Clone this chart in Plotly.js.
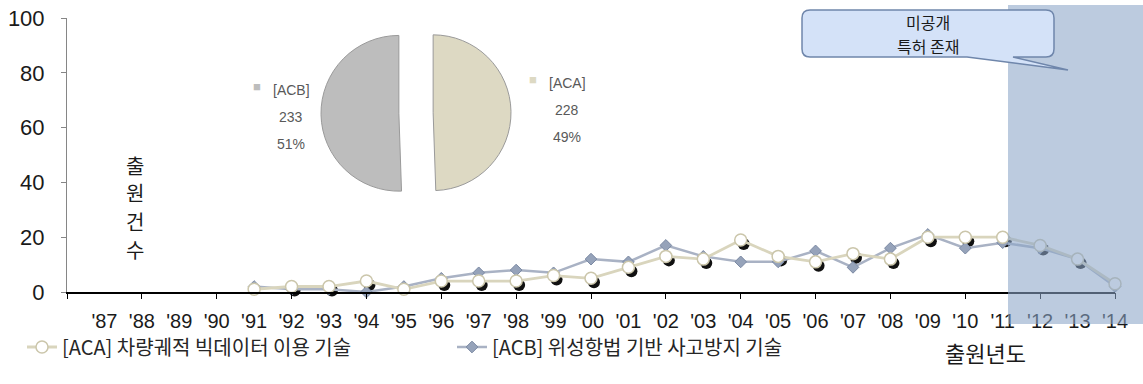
<!DOCTYPE html>
<html><head><meta charset="utf-8">
<script src="https://cdn.plot.ly/plotly-3.0.1.min.js"></script>
<style>html,body{margin:0;padding:0;background:#fff}</style>
</head><body><div id="chart" style="width:1143px;height:384px"></div>
<script>
// ---- data ----
const years = [1991,1992,1993,1994,1995,1996,1997,1998,1999,2000,2001,2002,2003,2004,2005,2006,2007,2008,2009,2010,2011,2012,2013,2014];
const acaValues = [1,2,2,4,1,4,4,4,6,5,9,13,12,19,13,11,14,12,20,20,20,17,12,3];
const acbValues = [2,1,1,0,2,5,7,8,7,12,11,17,13,11,11,15,9,16,21,16,18,16,12,2];
const seriesNames = ['[ACA] 차량궤적 빅데이터 이용 기술', '[ACB] 위성항법 기반 사고방지 기술'];
const tickYears = [1987,1988,1989,1990,1991,1992,1993,1994,1995,1996,1997,1998,1999,2000,2001,2002,2003,2004,2005,2006,2007,2008,2009,2010,2011,2012,2013,2014];
const tickText = ["'87","'88","'89","'90","'91","'92","'93","'94","'95","'96","'97","'98","'99","'00","'01","'02","'03","'04","'05","'06","'07","'08","'09","'10","'11","'12","'13","'14"];
const tickMarkYears = [1986,1988,1990,1992,1994,1996,1998,2000,2002,2004,2006,2008,2010,2012,2014];
const yTicks = [0,20,40,60,80,100];
const pieLabels = ['[ACA]', '[ACB]'];
const pieValues = [228, 233];
const pieColors = ['#ddd9c3', '#bdbdbd'];
const yTitle = '출원건수';
const xTitle = '출원년도';
const calloutLines = ['미공개', '특허 존재'];

// ---- geometry helpers (plot area in px) ----
const L = 67, R = 1115, T = 18, B = 292;
const W = R - L, H = B - T;
const px2x = p => (p - L) / W;
const py2y = p => (B - p) / H;
const xRange = [1986, 2014];
const yRange = [0, 100];
const pxPerX = W / (xRange[1] - xRange[0]);
const pxPerY = H / (yRange[1] - yRange[0]);
const shX = 3 / pxPerX, shY = 4 / pxPerY;

const cjk = '"Noto Sans CJK KR", "Noto Sans", sans-serif';
const latin = '"Liberation Sans", Arial, sans-serif';

const traces = [
  { // shadow of ACA markers (main, shifted hidden axes)
    x: years, y: acaValues, xaxis: 'x', yaxis: 'y', type: 'scatter', mode: 'markers',
    marker: {size: 12, color: '#111'}, showlegend: false, hoverinfo: 'skip', cliponaxis: false
  },
  {
    x: years, y: acbValues, xaxis: 'x2', yaxis: 'y2', type: 'scatter', mode: 'lines+markers',
    name: seriesNames[1], legendrank: 2,
    line: {color: '#a9b2c4', width: 2.5},
    marker: {symbol: 'diamond', size: 9, color: '#96a3ba', line: {color: '#7b89a3', width: 1}},
    cliponaxis: false
  },
  {
    x: years, y: acaValues, xaxis: 'x3', yaxis: 'y2', type: 'scatter', mode: 'lines+markers',
    name: seriesNames[0], legendrank: 1,
    line: {color: '#d9d5bd', width: 2.8},
    marker: {symbol: 'circle', size: 12, color: '#ffffff', line: {color: '#cbc6ab', width: 1.5}},
    cliponaxis: false
  },
  {
    type: 'pie', labels: pieLabels, values: pieValues, sort: false, direction: 'clockwise', rotation: 0,
    pull: [0.22, 0.22], textinfo: 'none', hoverinfo: 'skip', showlegend: false,
    marker: {colors: pieColors, line: {color: '#9a9a9a', width: 1}},
    domain: {x: [px2x(321), px2x(511)], y: [py2y(208), py2y(18)]}
  }
];

// callout path (rounded rect with tail), in paper coords
function P(x, y) { return px2x(x).toFixed(5) + ',' + py2y(y).toFixed(5); }
const cl = 802, cr = 1054, ct = 10, cb = 57, rr = 8;
const calloutPath = 'M' + P(cl + rr, ct) + ' L' + P(cr - rr, ct) + ' Q' + P(cr, ct) + ' ' + P(cr, ct + rr) +
  ' L' + P(cr, cb - rr) + ' Q' + P(cr, cb) + ' ' + P(cr - rr, cb) +
  ' L' + P(1013, cb) + ' L' + P(1068, 70) + ' L' + P(967, cb) +
  ' L' + P(cl + rr, cb) + ' Q' + P(cl, cb) + ' ' + P(cl, cb - rr) +
  ' L' + P(cl, ct + rr) + ' Q' + P(cl, ct) + ' ' + P(cl + rr, ct) + ' Z';

const annotations = [];
calloutLines.forEach((t, i) => {
  annotations.push({xref: 'paper', yref: 'paper', x: px2x(928), y: py2y(22 + i * 24), text: t, showarrow: false,
    font: {family: cjk, size: 16, color: '#1a1a1a'}, xanchor: 'center', yanchor: 'middle'});
});
// pie labels
const pieTotal = pieValues.reduce((a, b) => a + b, 0);
const pieLabelPos = [{x: 567, y: 83, sq: 533}, {x: 291, y: 90, sq: 257}];
pieLabels.forEach((lab, i) => {
  const pos = pieLabelPos[i];
  const lines = [lab, String(pieValues[i]), Math.round(pieValues[i] / pieTotal * 100) + '%'];
  lines.forEach((t, j) => {
    annotations.push({xref: 'paper', yref: 'paper', x: px2x(pos.x), y: py2y(pos.y + j * 27), text: t, showarrow: false,
      font: {family: latin, size: 14, color: '#595959'}, xanchor: 'center', yanchor: 'middle'});
  });
  annotations.push({xref: 'paper', yref: 'paper', x: px2x(pos.sq), y: py2y(pos.y - 4), text: '■', showarrow: false,
    font: {family: latin, size: 13, color: pieColors[i]}, xanchor: 'center', yanchor: 'middle'});
});
// y title (stacked chars)
yTitle.split('').forEach((ch, i) => {
  annotations.push({xref: 'paper', yref: 'paper', x: px2x(135), y: py2y(165 + i * 28), text: ch, showarrow: false,
    font: {family: cjk, size: 20, color: '#1a1a1a'}, xanchor: 'center', yanchor: 'middle'});
});
// x title
annotations.push({xref: 'paper', yref: 'paper', x: px2x(985), y: py2y(352), text: xTitle, showarrow: false,
  font: {family: cjk, size: 22, color: '#1a1a1a'}, xanchor: 'center', yanchor: 'middle'});

const layout = {
  width: 1143, height: 384,
  margin: {l: L, r: 1143 - R, t: T, b: 384 - B, pad: 0},
  paper_bgcolor: '#ffffff', plot_bgcolor: 'rgba(0,0,0,0)',
  showlegend: true,
  legend: {orientation: 'h', x: px2x(22), y: py2y(347), xanchor: 'left', yanchor: 'middle',
    font: {family: cjk, size: 20, color: '#262626'}, entrywidth: 385, entrywidthmode: 'pixels',
    bgcolor: 'rgba(0,0,0,0)'},
  // main axes: carry only the shadow, shifted by a few pixels, hidden
  xaxis: {range: [xRange[0] - shX, xRange[1] - shX], visible: false, fixedrange: true},
  yaxis: {range: [yRange[0] + shY, yRange[1] + shY], visible: false, fixedrange: true},
  xaxis2: {overlaying: 'x', anchor: 'y2', range: xRange, tickmode: 'array', tickvals: tickYears, ticktext: tickText,
    ticks: '', showline: true, linecolor: '#000', linewidth: 1.5, showgrid: false, zeroline: false,
    tickfont: {family: latin, size: 20, color: '#1a1a1a'}, ticklabelstandoff: 10, tickangle: 0},
  yaxis2: {overlaying: 'y', anchor: 'x2', range: yRange, tickmode: 'array', tickvals: yTicks, ticks: 'outside',
    ticklen: 5, tickcolor: '#868686', showline: true, linecolor: '#868686', linewidth: 1, showgrid: false,
    zeroline: false, tickfont: {family: latin, size: 22, color: '#1a1a1a'}, ticklabelstandoff: 12},
  xaxis3: {overlaying: 'x', anchor: 'y2', range: xRange, tickmode: 'array', tickvals: tickMarkYears,
    ticks: 'outside', ticklen: 6, tickcolor: '#000', tickwidth: 1, showticklabels: false,
    showline: false, showgrid: false, zeroline: false},
  shapes: [
    {type: 'rect', xref: 'paper', yref: 'paper', x0: px2x(1008), x1: px2x(1143), y0: py2y(324), y1: py2y(5),
      fillcolor: 'rgba(140,165,200,0.58)', line: {width: 0}, layer: 'above'},
    {type: 'path', xref: 'paper', yref: 'paper', path: calloutPath, fillcolor: '#d4e2f8',
      line: {color: '#6f86ab', width: 1.5}, layer: 'above'}
  ],
  annotations: annotations
};

Plotly.newPlot('chart', traces, layout, {displayModeBar: false, staticPlot: true});
</script>
</body></html>
